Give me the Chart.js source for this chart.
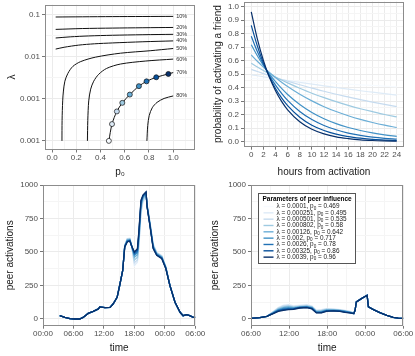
<!DOCTYPE html>
<html>
<head>
<meta charset="utf-8">
<script src="https://cdn.jsdelivr.net/npm/chart.js@4.4.1/dist/chart.umd.min.js"></script>
<style>
  html, body { margin: 0; padding: 0; background: #fff; }
  #wrap { position: relative; width: 415px; height: 356px; overflow: hidden; }
  canvas { position: absolute; }
</style>
</head>
<body>
<div id="wrap">
  <canvas id="c1" width="207" height="178" style="left:0;top:0"></canvas>
  <canvas id="c2" width="208" height="178" style="left:207px;top:0"></canvas>
  <canvas id="c3" width="207" height="178" style="left:0;top:178px"></canvas>
  <canvas id="c4" width="208" height="178" style="left:207px;top:178px"></canvas>
</div>
<script>
// ---- data ----

// peer influence parameters, one per series (light -> dark)
const lambdas = [0.0001, 0.000251, 0.000501, 0.000802, 0.00126, 0.002, 0.0026, 0.00325, 0.0039];
const p0s = [0.469, 0.495, 0.535, 0.58, 0.642, 0.717, 0.78, 0.86, 0.96];
const legendTitle = "Parameters of peer influence";

// panel 1: contour lines in (p0, lambda)
const contourNames = ["10%", "20%", "30%", "40%", "50%", "60%", "70%", "80%"];
const contourP0 = [
  [0.03, 0.25, 0.5, 0.75, 1.0],
  [0.03, 0.25, 0.5, 0.75, 1.0],
  [0.03, 0.15, 0.3, 0.5, 0.75, 1.0],
  [0.03, 0.1, 0.22, 0.35, 0.5, 0.75, 1.0],
  [0.082, 0.083, 0.088, 0.094, 0.106, 0.131, 0.172, 0.237, 0.36, 0.565, 0.81, 1.0],
  [0.292, 0.295, 0.303, 0.319, 0.344, 0.385, 0.45, 0.565, 0.769, 1.0],
  [0.469, 0.495, 0.535, 0.58, 0.642, 0.717, 0.78, 0.86, 0.96, 1.0],
  [0.783, 0.79, 0.802, 0.827, 0.867, 0.925, 1.0]
];
const contourLambda = [
  [0.088, 0.089, 0.090, 0.0905, 0.091],
  [0.0447, 0.0468, 0.048, 0.0489, 0.0497],
  [0.0279, 0.0297, 0.0312, 0.0324, 0.0334, 0.0341],
  [0.0152, 0.0168, 0.0189, 0.0203, 0.0213, 0.0227, 0.0238],
  [0.0001, 0.000305, 0.000893, 0.00153, 0.00262, 0.00403, 0.0059, 0.00768, 0.00979, 0.01214, 0.0139, 0.0157],
  [0.0001, 0.000305, 0.000893, 0.0017, 0.00262, 0.00382, 0.00527, 0.00671, 0.00789, 0.00879],
  [0.0001, 0.000251, 0.000501, 0.000802, 0.00126, 0.002, 0.0026, 0.00325, 0.0039, 0.0042],
  [0.0001, 0.000233, 0.000398, 0.000612, 0.000824, 0.00102, 0.00117]
];

// panel 2: probability of activating a friend vs hours
const hours = [0, 1, 2, 3, 4, 5, 6, 8, 10, 12, 14, 16, 18, 20, 22, 24];
const probCurves = [
  [0.469, 0.466, 0.463, 0.461, 0.458, 0.455, 0.452, 0.447, 0.442, 0.436, 0.431, 0.426, 0.421, 0.416, 0.411, 0.406],
  [0.495, 0.488, 0.480, 0.473, 0.466, 0.459, 0.452, 0.439, 0.426, 0.413, 0.401, 0.389, 0.377, 0.366, 0.355, 0.345],
  [0.535, 0.519, 0.504, 0.489, 0.474, 0.460, 0.447, 0.421, 0.396, 0.373, 0.351, 0.331, 0.311, 0.293, 0.276, 0.260],
  [0.580, 0.553, 0.527, 0.502, 0.478, 0.456, 0.435, 0.395, 0.358, 0.326, 0.296, 0.269, 0.244, 0.222, 0.201, 0.183],
  [0.642, 0.595, 0.552, 0.512, 0.475, 0.440, 0.408, 0.351, 0.302, 0.259, 0.223, 0.192, 0.165, 0.142, 0.122, 0.105],
  [0.717, 0.636, 0.564, 0.500, 0.444, 0.394, 0.349, 0.275, 0.216, 0.170, 0.134, 0.105, 0.083, 0.065, 0.051, 0.040],
  [0.780, 0.667, 0.571, 0.489, 0.418, 0.358, 0.306, 0.224, 0.164, 0.120, 0.088, 0.064, 0.047, 0.034, 0.025, 0.019],
  [0.860, 0.708, 0.582, 0.479, 0.394, 0.324, 0.267, 0.181, 0.122, 0.083, 0.056, 0.038, 0.026, 0.017, 0.012, 0.008],
  [0.960, 0.760, 0.601, 0.476, 0.377, 0.298, 0.236, 0.148, 0.092, 0.058, 0.036, 0.023, 0.014, 0.009, 0.006, 0.004]
];

// panel 3: peer activations, hours since 00:00 of day one
const t3 = [3.3, 4.3, 5.3, 6.3, 7.2, 7.9, 8.9, 9.9, 10.9, 11.2, 12.2, 13.2, 13.8, 14.6, 15.1, 15.7,
            16.1, 16.6, 17.1, 17.4, 18.0, 18.6, 18.9, 19.3, 19.7, 20.3, 20.5, 21.1, 21.7, 22.4, 23.4, 24.2,
            25.0, 26.0, 27.0, 27.6, 28.3, 28.9, 29.6, 30.0];
const act3Start = [25, 12, 3, 0, 0, 12, 42, 57, 75, 90, 85, 87, 112, 162, 250, 362];
const act3Peak = [
  [555, 600, 605, 560, 395, 420, 540, 770, 870, 890, 860, 720, 565, 500, 475, 395],
  [555, 600, 603, 560, 400, 425, 545, 780, 875, 900, 858, 718, 562, 498, 473, 393],
  [550, 598, 600, 558, 420, 440, 560, 800, 885, 910, 855, 713, 555, 495, 470, 390],
  [548, 595, 597, 556, 440, 460, 580, 820, 895, 920, 852, 708, 550, 492, 467, 387],
  [545, 590, 594, 555, 460, 480, 600, 840, 905, 930, 848, 703, 545, 488, 463, 384],
  [543, 585, 590, 554, 475, 495, 620, 855, 912, 937, 845, 698, 540, 485, 460, 382],
  [540, 582, 587, 552, 485, 505, 635, 868, 918, 942, 842, 694, 535, 481, 456, 380],
  [538, 578, 584, 551, 493, 515, 650, 878, 922, 946, 840, 690, 530, 478, 453, 377],
  [537, 575, 582, 550, 500, 525, 662, 887, 925, 950, 837, 687, 525, 475, 450, 375]
];
const act3End = [250, 125, 50, 25, 32, 25, 12, 12];

// panel 4: peer activations, hours since 00:00 (06:00 -> 06:00 next day)
const t4 = [6.0, 7.4, 8.5, 9.5, 10.3, 11.1, 11.9, 12.7, 13.7, 14.8, 15.6, 16.3, 17.1, 17.9, 19.0, 20.0,
            20.8, 21.6, 22.2, 22.4, 22.6, 23.4, 24.3, 24.5, 25.3, 26.3, 27.4, 28.4, 29.2, 30.0];
const act4Start = [5, 10, 20];
const act4Day = [
  [57, 88, 105, 110, 100, 105, 110, 100, 68, 72, 80, 78, 72, 67, 58, 46],
  [55, 85, 102, 107, 97, 102, 107, 97, 65, 70, 77, 75, 70, 65, 57, 45],
  [53, 81, 97, 102, 93, 98, 102, 93, 62, 66, 74, 72, 68, 63, 55, 44],
  [51, 77, 91, 96, 89, 94, 98, 90, 59, 62, 71, 70, 66, 61, 53, 43],
  [48, 73, 85, 90, 85, 91, 94, 87, 56, 58, 68, 67, 64, 59, 51, 42],
  [46, 69, 79, 84, 81, 88, 91, 84, 53, 54, 65, 65, 62, 56, 49, 42],
  [44, 65, 74, 78, 78, 86, 89, 81, 50, 51, 62, 63, 60, 54, 48, 41],
  [42, 61, 69, 74, 75, 84, 87, 78, 47, 48, 60, 61, 58, 52, 46, 40],
  [40, 57, 65, 70, 72, 82, 85, 75, 45, 45, 57, 60, 57, 50, 45, 40]
];
const act4End = [65, 127, 152, 177, 90, 70, 47, 27, 12, 7, 5];

// axis ticks
const p0Ticks = [0, 0.2, 0.4, 0.6, 0.8, 1.0];
const p0Labels = ["0.0", "0.2", "0.4", "0.6", "0.8", "1.0"];
const lambdaTicks = [0.0001, 0.001, 0.01, 0.1];
const lambdaLabels = ["0.001", "0.001", "0.01", "0.1"];
const hourTicks = [0, 2, 4, 6, 8, 10, 12, 14, 16, 18, 20, 22, 24];
const hourLabels = ["0", "2", "4", "6", "8", "10", "12", "14", "16", "18", "20", "22", "24"];
const probTicks = [0, 0.1, 0.2, 0.3, 0.4, 0.5, 0.6, 0.7, 0.8, 0.9, 1.0];
const probLabels = ["0.0", "0.1", "0.2", "0.3", "0.4", "0.5", "0.6", "0.7", "0.8", "0.9", "1.0"];
const actTicks = [0, 250, 500, 750, 1000];
const actLabels = ["0", "250", "500", "750", "1000"];
const time3Ticks = [0, 6, 12, 18, 24, 30];
const time3Labels = ["00:00", "06:00", "12:00", "18:00", "00:00", "06:00"];
const time4Ticks = [6, 12, 18, 24, 30];
const time4Labels = ["06:00", "12:00", "18:00", "00:00", "06:00"];

// ---- styling ----
const FONT = "'Liberation Sans', Arial, Helvetica, sans-serif";
const BLUES = ['#f7fbff', '#deebf7', '#c6dbef', '#9ecae1', '#6baed6', '#4292c6', '#2171b5', '#08519c', '#08306b'];
const GRID_MAJOR = '#ebebeb';
const GRID_MINOR = '#f5f5f5';

function minorBetween(list) {
  const out = [];
  for (let i = 0; i < list.length - 1; i++) out.push((list[i] + list[i + 1]) / 2);
  return out;
}

function makeScale(o) {
  const minor = o.minor || [];
  const horizontal = o.pos === 'bottom';
  return {
    type: o.type || 'linear',
    position: o.pos,
    min: o.min,
    max: o.max,
    afterBuildTicks: scale => {
      const list = o.major.map(v => ({ value: v }))
        .concat(minor.map(v => ({ value: v, minor: true })));
      list.sort((a, b) => a.value - b.value);
      scale.ticks = list;
    },
    afterFit: scale => {
      if (horizontal) scale.height = o.size; else scale.width = o.size;
      scale.paddingTop = 0; scale.paddingBottom = 0;
      scale.paddingLeft = 0; scale.paddingRight = 0;
    },
    grid: {
      color: c => (c.tick && c.tick.minor) ? GRID_MINOR : GRID_MAJOR,
      tickColor: c => (c.tick && c.tick.minor) ? 'rgba(0,0,0,0)' : '#777',
      tickLength: 3,
      lineWidth: 1
    },
    border: { display: false },
    ticks: {
      autoSkip: false, maxRotation: 0, minRotation: 0,
      padding: horizontal ? 0.5 : 2,
      color: '#4d4d4d',
      font: { family: FONT, size: 8 },
      callback: v => {
        const i = o.major.indexOf(v);
        return i >= 0 ? o.labels[i] : '';
      }
    },
    title: {
      display: true, text: o.title, color: '#1a1a1a',
      padding: o.tpad || 0,
      font: { family: FONT, size: 10 }
    }
  };
}

function baseOptions(pad, xScale, yScale) {
  return {
    responsive: false,
    animation: false,
    devicePixelRatio: 1,
    layout: { padding: pad },
    plugins: { legend: { display: false }, tooltip: { enabled: false } },
    scales: { x: xScale, y: yScale },
    elements: { point: { radius: 0 } }
  };
}

// grey frame round the plotting area
const panelBox = {
  id: 'panelBox',
  afterDatasetsDraw(chart) {
    const { ctx, chartArea: a } = chart;
    ctx.save();
    ctx.strokeStyle = '#8c8c8c';
    ctx.lineWidth = 1;
    ctx.strokeRect(Math.round(a.left) + 0.5, Math.round(a.top) + 0.5,
      Math.round(a.right - a.left) - 1, Math.round(a.bottom - a.top) - 1);
    ctx.restore();
  }
};

// percentage labels at the right end of each contour
const contourLabels = {
  id: 'contourLabels',
  afterDatasetsDraw(chart) {
    const { ctx, scales: { x, y } } = chart;
    ctx.save();
    ctx.font = '5.5px ' + FONT;
    ctx.fillStyle = '#333';
    ctx.textBaseline = 'middle';
    contourNames.forEach((name, i) => {
      const ps = contourP0[i], ls = contourLambda[i];
      const px = x.getPixelForValue(ps[ps.length - 1]) + 3;
      const py = y.getPixelForValue(ls[ls.length - 1]);
      ctx.fillText(name, px, py);
    });
    ctx.restore();
  }
};

// text with a subscript zero after the "p"
function drawParamText(ctx, lam, p0, x, y, size) {
  const a = 'λ = ' + lam + ', p';
  const b = ' = ' + p0;
  ctx.font = size + 'px ' + FONT;
  ctx.fillText(a, x, y);
  let w = ctx.measureText(a).width;
  ctx.font = (size * 0.72) + 'px ' + FONT;
  ctx.fillText('0', x + w, y + size * 0.3);
  w += ctx.measureText('0').width;
  ctx.font = size + 'px ' + FONT;
  ctx.fillText(b, x + w, y);
}

const peerLegend = {
  id: 'peerLegend',
  afterDraw(chart) {
    const { ctx, chartArea: a } = chart;
    const x0 = Math.round(a.left + 7) + 0.5, y0 = Math.round(a.top + 8) + 0.5;
    const w = 97, h = 70;
    ctx.save();
    ctx.fillStyle = '#fff';
    ctx.fillRect(x0, y0, w, h);
    ctx.strokeStyle = '#555';
    ctx.lineWidth = 1;
    ctx.strokeRect(x0, y0, w, h);
    ctx.fillStyle = '#000';
    ctx.textBaseline = 'middle';
    ctx.font = 'bold 6.5px ' + FONT;
    ctx.fillText(legendTitle, x0 + 4, y0 + 6);
    lambdas.forEach((lam, i) => {
      const yy = y0 + 13 + i * 6.33;
      ctx.strokeStyle = BLUES[i];
      ctx.lineWidth = 1.4;
      ctx.beginPath();
      ctx.moveTo(x0 + 5, yy);
      ctx.lineTo(x0 + 15, yy);
      ctx.stroke();
      ctx.fillStyle = '#1a1a1a';
      drawParamText(ctx, lam, p0s[i], x0 + 18, yy, 6.4);
    });
    ctx.restore();
  }
};

// ---- panel 1: contours ----
const contourSets = contourNames.map((name, i) => ({
  label: name,
  data: contourP0[i].map((p, j) => ({ x: p, y: contourLambda[i][j] })),
  borderColor: '#111',
  borderWidth: 1,
  pointRadius: 0,
  tension: 0.3,
  order: 2
}));
const dotSet = {
  label: 'parameters',
  data: p0s.map((p, i) => ({ x: p, y: lambdas[i] })),
  showLine: false,
  pointRadius: 2.5,
  pointBackgroundColor: BLUES,
  pointBorderColor: '#111',
  pointBorderWidth: 0.7,
  order: 1
};
new Chart(document.getElementById('c1'), {
  type: 'line',
  data: { datasets: contourSets.concat([dotSet]) },
  options: baseOptions({ left: 6, top: 1.5, right: 12, bottom: 0 },
    makeScale({ pos: 'bottom', min: -0.058, max: 1.18, major: p0Ticks, labels: p0Labels,
      minor: [0.1, 0.3, 0.5, 0.7, 0.9, 1.1], size: 28.5, title: 'p₀' }),
    makeScale({ pos: 'left', type: 'logarithmic', min: 0.0000624, max: 0.1726,
      major: lambdaTicks, labels: lambdaLabels, minor: [0.000316, 0.00316, 0.0316],
      size: 39, title: 'λ' })),
  plugins: [panelBox, contourLabels]
});

// ---- panel 2: decay curves ----
new Chart(document.getElementById('c2'), {
  type: 'line',
  data: {
    datasets: probCurves.map((vals, i) => ({
      label: 'λ = ' + lambdas[i],
      data: hours.map((h, j) => ({ x: h, y: vals[j] })),
      borderColor: BLUES[i],
      borderWidth: 1.2,
      pointRadius: 0,
      cubicInterpolationMode: 'monotone',
      order: probCurves.length - i
    }))
  },
  options: baseOptions({ left: 5, top: 1.5, right: 11, bottom: 0 },
    makeScale({ pos: 'bottom', min: -1.2, max: 25.2, major: hourTicks, labels: hourLabels,
      minor: minorBetween(hourTicks), size: 31.3, title: 'hours from activation' }),
    makeScale({ pos: 'left', min: -0.037, max: 1.037, major: probTicks, labels: probLabels,
      minor: minorBetween(probTicks), size: 32, title: 'probability of activating a friend' })),
  plugins: [panelBox]
});

// ---- panel 3: peer activations, day one ----
new Chart(document.getElementById('c3'), {
  type: 'line',
  data: {
    datasets: act3Peak.map((mid, i) => {
      const vals = act3Start.concat(mid, act3End);
      return {
        label: 'λ = ' + lambdas[i],
        data: t3.map((t, j) => ({ x: t, y: vals[j] })),
        borderColor: BLUES[i],
        borderWidth: 1.3,
        pointRadius: 0,
        order: act3Peak.length - i
      };
    })
  },
  options: baseOptions({ left: 4, top: 7, right: 11.7, bottom: 0 },
    makeScale({ pos: 'bottom', min: 0, max: 30, major: time3Ticks, labels: time3Labels,
      minor: minorBetween(time3Ticks), size: 30.3, title: 'time', tpad: { bottom: 1.7 } }),
    makeScale({ pos: 'left', min: -50, max: 1000, major: actTicks, labels: actLabels,
      minor: minorBetween(actTicks), size: 39, title: 'peer activations' })),
  plugins: [panelBox]
});

// ---- panel 4: peer activations, day two ----
new Chart(document.getElementById('c4'), {
  type: 'line',
  data: {
    datasets: act4Day.map((mid, i) => {
      const vals = act4Start.concat(mid, act4End);
      return {
        label: 'λ = ' + lambdas[i],
        data: t4.map((t, j) => ({ x: t, y: vals[j] })),
        borderColor: BLUES[i],
        borderWidth: 1.3,
        pointRadius: 0,
        order: act4Day.length - i
      };
    })
  },
  options: baseOptions({ left: 2, top: 7, right: 11.7, bottom: 0 },
    makeScale({ pos: 'bottom', min: 6, max: 30, major: time4Ticks, labels: time4Labels,
      minor: minorBetween(time4Ticks), size: 30.3, title: 'time', tpad: { bottom: 1.7 } }),
    makeScale({ pos: 'left', min: -50, max: 1000, major: actTicks, labels: actLabels,
      minor: minorBetween(actTicks), size: 42, title: 'peer activations' })),
  plugins: [panelBox, peerLegend]
});
</script>
</body>
</html>
